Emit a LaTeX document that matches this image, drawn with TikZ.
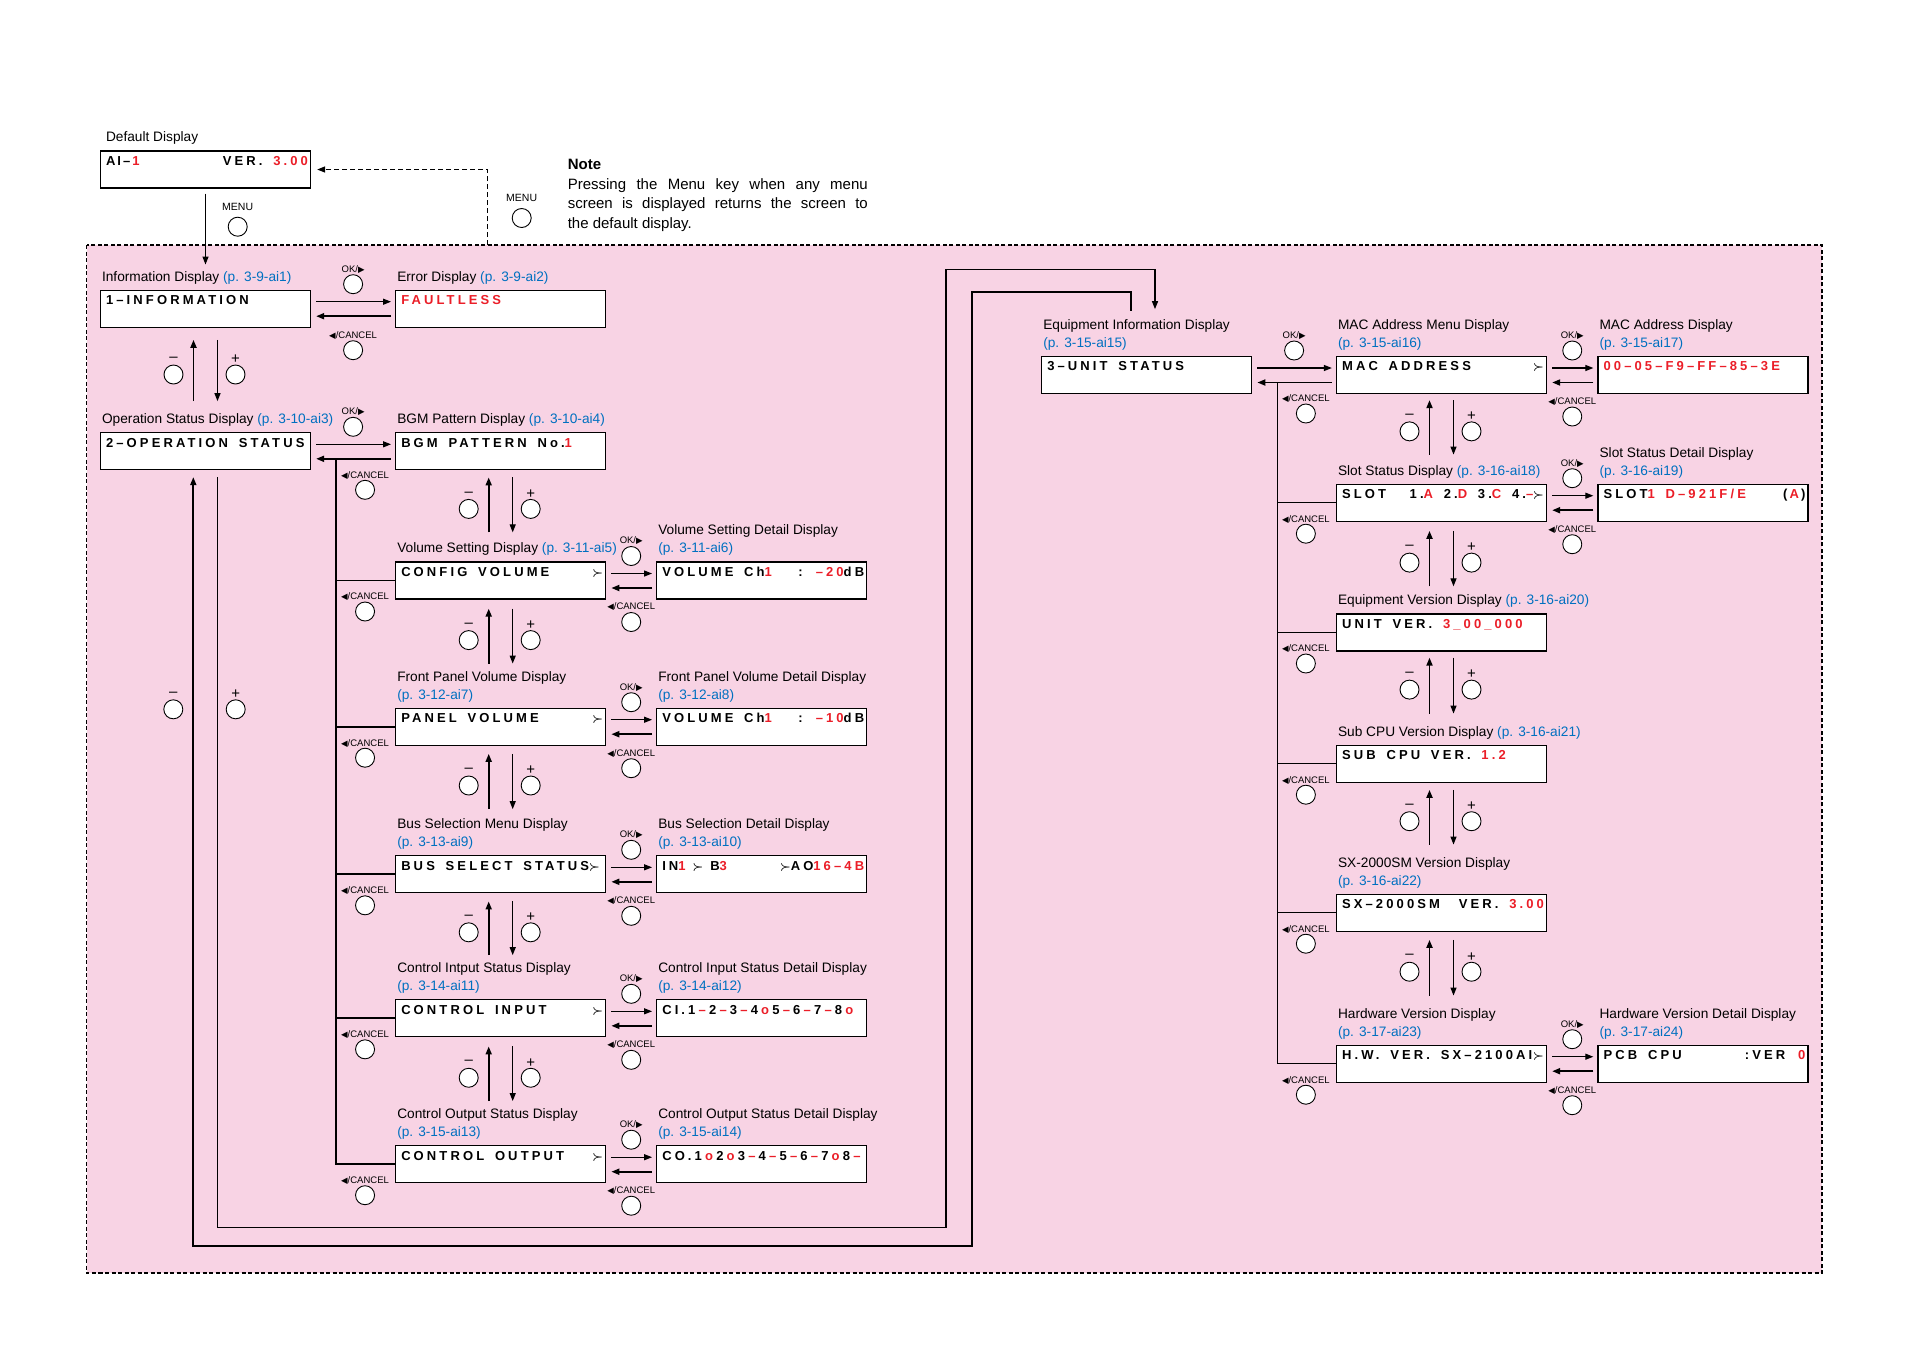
\documentclass[tikz,border=0pt]{standalone}
\usepackage{fontspec}
\setmainfont{Liberation Sans}
\newfontfamily\lcdfont{Liberation Sans}[LetterSpace=24,WordSpace=1.6]
\newfontfamily\symfont{DejaVu Sans}
\usetikzlibrary{arrows.meta,positioning,calc}

\definecolor{menupink}{RGB}{248,211,228}
\definecolor{valred}{RGB}{235,30,40}
\definecolor{pageblue}{RGB}{0,112,192}

\newcommand{\rd}[1]{\textcolor{valred}{#1}}
\newcommand{\pg}[1]{\textcolor{pageblue}{#1}}
\newcommand{\nxt}{\mbox{\boldmath$\succ$}}
\newcommand{\cmk}[1]{\hspace{3.2pt}\rd{#1}\hspace{3.2pt}}

\tikzset{
	disp/.style={draw,fill=white,line width=1.3pt,minimum width=210pt,minimum height=37pt,inner sep=0pt},
	lcd/.style={font=\lcdfont\bfseries\fontsize{13}{15}\selectfont,inner sep=0pt,anchor=base west},
	lcdr/.style={lcd,anchor=base east},
	ttl/.style={font=\fontsize{13.7}{18}\selectfont,inner sep=0pt,anchor=south west,align=left},
	btn/.style={circle,draw,fill=white,line width=0.9pt,minimum size=19pt,inner sep=0pt},
	keytxt/.style={font=\fontsize{9.5}{11}\selectfont,inner sep=0pt},
	pmtxt/.style={font=\fontsize{15}{15}\selectfont,inner sep=0pt},
	fwd/.style={-{Triangle[length=8pt,width=6pt]},line width=1.2pt},
	back/.style={-{Triangle[length=8pt,width=6pt]},line width=1.8pt},
}

\begin{document}
\begin{tikzpicture}[x=1pt,y=-1pt]
	\useasboundingbox (0,0) rectangle (1910,1350);
	\draw[fill=menupink,line width=1.3pt,dash pattern=on 4pt off 2.5pt] (86.5,245) rectangle (1822,1273);

	\node[disp] (dflt) at (205.5,169.5) {};
	\node[disp] (info) at (205.5,308.7) {};
	\node[disp] (err) at (500.7,308.7) {};
	\node[disp] (oper) at (205.5,451.3) {};
	\node[disp] (bgm) at (500.7,451.3) {};
	\foreach \n/\y in {vol/580.5,panel/726.7,bus/874.3,ctlin/1018.3,ctlout/1164.2}
	{
		\node[disp] (\n) at (500.7,\y) {};
		\node[disp] (det\n) at (761.7,\y) {};
	}
	\node[disp] (equip) at (1146.7,375) {};
	\node[disp] (mac) at (1441.5,375) {};
	\node[disp] (detmac) at (1703,375) {};
	\node[disp] (slot) at (1441.5,502.7) {};
	\node[disp] (detslot) at (1703,502.7) {};
	\foreach \n/\y in {unitver/632.5,subcpu/763.7,sxver/912.7,hwver/1063.7}
		\node[disp] (\n) at (1441.5,\y) {};
	\node[disp] (dethw) at (1703,1063.7) {};

	\node[ttl] (tdflt) at ([xshift=6pt,yshift=6pt]dflt.north west) {Default Display};
	\foreach \n/\txt in {info/{Information Display \pg{(p. 3-9-ai1)}},
		err/{Error Display \pg{(p. 3-9-ai2)}},
		oper/{Operation Status Display \pg{(p. 3-10-ai3)}},
		bgm/{BGM Pattern Display \pg{(p. 3-10-ai4)}},
		vol/{Volume Setting Display \pg{(p. 3-11-ai5)}},
		detvol/{Volume Setting Detail Display\\\pg{(p. 3-11-ai6)}},
		panel/{Front Panel Volume Display\\\pg{(p. 3-12-ai7)}},
		detpanel/{Front Panel Volume Detail Display\\\pg{(p. 3-12-ai8)}},
		bus/{Bus Selection Menu Display\\\pg{(p. 3-13-ai9)}},
		detbus/{Bus Selection Detail Display\\\pg{(p. 3-13-ai10)}},
		ctlin/{Control Intput Status Display\\\pg{(p. 3-14-ai11)}},
		detctlin/{Control Input Status Detail Display\\\pg{(p. 3-14-ai12)}},
		ctlout/{Control Output Status Display\\\pg{(p. 3-15-ai13)}},
		detctlout/{Control Output Status Detail Display\\\pg{(p. 3-15-ai14)}},
		equip/{Equipment Information Display\\\pg{(p. 3-15-ai15)}},
		mac/{MAC Address Menu Display\\\pg{(p. 3-15-ai16)}},
		detmac/{MAC Address Display\\\pg{(p. 3-15-ai17)}},
		slot/{Slot Status Display \pg{(p. 3-16-ai18)}},
		detslot/{Slot Status Detail Display\\\pg{(p. 3-16-ai19)}},
		unitver/{Equipment Version Display \pg{(p. 3-16-ai20)}},
		subcpu/{Sub CPU Version Display \pg{(p. 3-16-ai21)}},
		sxver/{SX-2000SM Version Display\\\pg{(p. 3-16-ai22)}},
		hwver/{Hardware Version Display\\\pg{(p. 3-17-ai23)}},
		dethw/{Hardware Version Detail Display\\\pg{(p. 3-17-ai24)}}}
		\node[ttl] (t\n) at ([xshift=2pt,yshift=5.5pt]\n.north west) {\txt};

	\foreach \n/\txt in {dflt/{A\hspace{2pt}I\hspace{2pt}–\hspace{2pt}\rd{1}},info/{1–INFORMATION},err/{\rd{FAULTLESS}},
		oper/{2–OPERATION STATUS},bgm/{BGM PATTERN No.\rd{1}},
		vol/{CONFIG VOLUME},detvol/{VOLUME Ch\rd{1}},
		panel/{PANEL VOLUME},detpanel/{VOLUME Ch\rd{1}},
		bus/{BUS SELECT STATUS\nxt},detbus/{IN\rd{1}\hspace{7pt}\nxt\hspace{7pt}B\rd{3}},
		ctlin/{CONTROL INPUT},detctlin/{CI.1\cmk{–}2\cmk{–}3\cmk{–}4\cmk{o}5\cmk{–}6\cmk{–}7\cmk{–}8\cmk{o}},
		ctlout/{CONTROL OUTPUT},detctlout/{CO.1\cmk{o}2\cmk{o}3\cmk{–}4\cmk{–}5\cmk{–}6\cmk{–}7\cmk{o}8\cmk{–}},
		equip/{3–UNIT STATUS},mac/{MAC ADDRESS},detmac/{\rd{00–05–F9–FF–85–3E}},
		slot/{SLOT},detslot/{SLOT\rd{1 D–921F/E}},
		unitver/{UNIT VER. \rd{3\_00\_000}},subcpu/{SUB CPU VER. \rd{1.2}},
		sxver/{SX–2000SM},hwver/{H.W. VER. SX–2100AI},dethw/{PCB CPU}}
		\node[lcd] (l\n) at ([xshift=6pt,yshift=-15pt]\n.north west) {\txt};

	\foreach \n/\txt in {dflt/{VER. \rd{3.00}},vol/{\nxt},panel/{\nxt},ctlin/{\nxt},
		ctlout/{\nxt},mac/{\nxt},hwver/{\nxt},
		detvol/{: \rd{–20}dB},detpanel/{: \rd{–10}dB},detbus/{\nxt AO\rd{16–4B}},
		slot/{1.\rd{A} 2.\rd{D} 3.\rd{C} 4.\rd{–}\nxt},detslot/{(\,\rd{A}\,)},
		sxver/{VER. \rd{3.00}},dethw/{:VER\quad\rd{0}\hspace{12pt}}}
		\node[lcdr] (r\n) at ([xshift=-3pt,yshift=-15pt]\n.north east) {\txt};

	\draw[fwd] ([yshift=-5pt]dflt.south) -- ([yshift=25pt]info.north);
	\node[keytxt,font=\fontsize{10.5}{12}\selectfont] (kmenu) at (237.7,207) {MENU};
	\node[btn] (menu) at (237.7,226.7) {};
	\coordinate (mret) at (487.7,245);
	\draw[fwd,dash pattern=on 5pt off 3pt] (mret) |- ([xshift=6pt]dflt.east);
	\node[keytxt,font=\fontsize{10.5}{12}\selectfont] (kmenu2) at (521.7,198) {MENU};
	\node[btn] (menu2) at (521.7,218) {};
	\node[anchor=north west,text width=300pt,align=justify,inner sep=0pt,
		font=\fontsize{15}{19.5}\selectfont] (note) at (567.6,159)
		{\textbf{Note}\\Pressing the Menu key when any menu\linebreak
		screen is displayed returns the screen to\linebreak the default display.};

	\foreach \a/\b in {info/err,oper/bgm,vol/detvol,panel/detpanel,bus/detbus,ctlin/detctlin,
		ctlout/detctlout,equip/mac,mac/detmac,slot/detslot,hwver/dethw}
	{
		\draw[fwd] ([xshift=5pt,yshift=7pt]\a.east) -- ([xshift=-4pt,yshift=7pt]\b.west);
		\draw[back] ([xshift=-4pt,yshift=-7.5pt]\b.west) -- ([xshift=5pt,yshift=-7.5pt]\a.east);
		\coordinate (mid\a) at ($(\a.east)!0.5!(\b.west)$);
		\node[keytxt] (kok\a) at ([yshift=39.5pt]mid\a) {OK/{\symfont\fontsize{8.5}{8.5}\selectfont ▶}};
		\node[btn] (ok\a) at ([yshift=24.5pt]mid\a) {};
	}
	\foreach \a in {info,vol,panel,bus,ctlin,ctlout,mac,slot,hwver}
	{
		\node[keytxt] (kcn\a) at ([yshift=-26.5pt]mid\a) {{\symfont\fontsize{8.5}{8.5}\selectfont ◀}/CANCEL};
		\node[btn] (cn\a) at ([yshift=-41.5pt]mid\a) {};
	}

	\coordinate (colB) at (336,458.8);
	\draw[line width=1.8pt] (colB) |- (ctlout.west);
	\foreach \n in {vol,panel,bus,ctlin}
		\draw[line width=1.8pt] (colB |- \n.west) -- (\n.west);
	\coordinate (colE) at (1277.4,382.5);
	\draw[line width=1.4pt] (colE) |- (hwver.west);
	\foreach \n in {slot,unitver,subcpu,sxver}
		\draw[line width=1.4pt] (colE |- \n.west) -- (\n.west);
	\foreach \n/\o in {bgm/7.5,vol/0,panel/0,bus/0,ctlin/0,ctlout/0,mac/7.5,slot/0,unitver/0,subcpu/0,sxver/0,hwver/0}
	{
		\node[keytxt] (kcc\n) at ([xshift=-30pt,yshift=-\o-16.5]\n.west) {{\symfont\fontsize{8.5}{8.5}\selectfont ◀}/CANCEL};
		\node[btn] (cc\n) at ([xshift=-30pt,yshift=-\o-31]\n.west) {};
	}

	\foreach \u/\l/\ga/\gb in {info/oper/12/31,bgm/vol/7/29,vol/panel/9/44,panel/bus/8/46,bus/ctlin/8/44,
		ctlin/ctlout/9/44,mac/slot/6/29,slot/unitver/9/27,unitver/subcpu/6/31,subcpu/sxver/7/49,sxver/hwver/8/49}
	{
		\coordinate (pt\u) at ([yshift=-\ga]\u.south);
		\coordinate (pb\u) at ([yshift=\gb]\l.north);
		\draw[back] ([xshift=-12pt]pb\u) -- ([xshift=-12pt]pt\u);
		\draw[fwd] ([xshift=12pt]pt\u) -- ([xshift=12pt]pb\u);
		\coordinate (pm\u) at ($(pt\u)!0.5!(pb\u)$);
		\node[pmtxt] (mn\u) at ([xshift=-32pt,yshift=11pt]pm\u) {–};
		\node[btn] (bm\u) at ([xshift=-32pt,yshift=-4pt]pm\u) {};
		\node[pmtxt] (pl\u) at ([xshift=30pt,yshift=11pt]pm\u) {+};
		\node[btn] (bp\u) at ([xshift=30pt,yshift=-4pt]pm\u) {};
	}

	\coordinate (retA) at (971.7,291.7);
	\coordinate (retB) at (193.3,1246);
	\draw[back] ([xshift=-15.7pt,yshift=45pt]equip.north) |- (retA) |- (retB)
		-- ([xshift=-12.2pt,yshift=-6.7pt]oper.south);
	\coordinate (advA) at (946,1227.7);
	\coordinate (advB) at (946,269.3);
	\draw[fwd] ([xshift=12.2pt,yshift=-6.7pt]oper.south) |- (advA) -- (advB)
		-| ([xshift=8.3pt,yshift=46.7pt]equip.north);
	\node[pmtxt] (mnop) at (173.3,694.3) {–};
	\node[btn] (bmop) at (173.3,709.3) {};
	\node[pmtxt] (plop) at (235.7,694.3) {+};
	\node[btn] (bpop) at (235.7,709.3) {};
\end{tikzpicture}
\end{document}
